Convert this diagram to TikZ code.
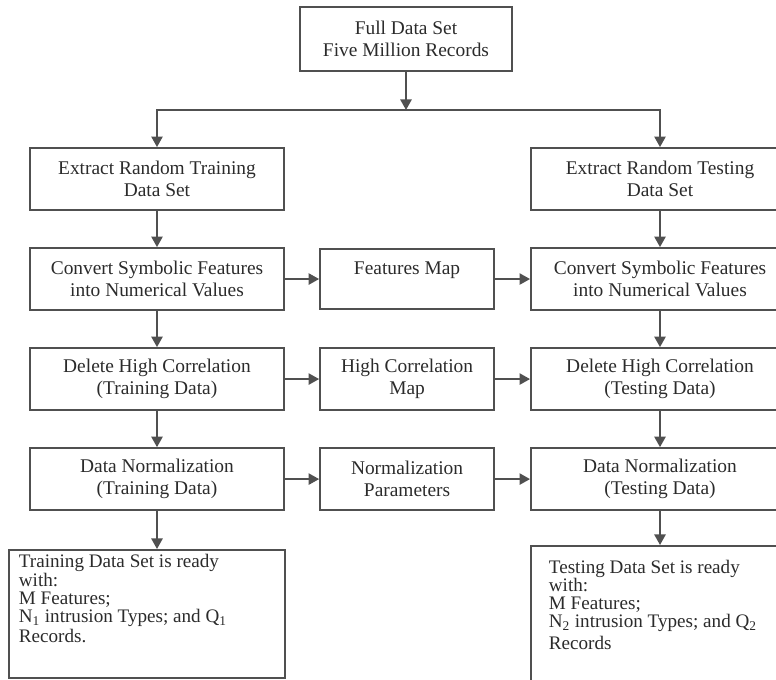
\documentclass[tikz,border=0pt]{standalone}
\usepackage{fontspec}
\setmainfont{Liberation Serif}
\usetikzlibrary{arrows.meta,positioning}
\definecolor{boxline}{HTML}{505050}
\definecolor{boxtext}{HTML}{2B2B2B}
\newcommand{\readyfont}{\fontsize{13.6}{12.9}\selectfont\lineskiplimit=-6pt}

\begin{document}
\begin{tikzpicture}[x=0.025cm,y=-0.025cm,>={Triangle[length=7.5pt,width=8pt]},
  on grid,node distance=2.5cm and 6.25cm,line width=1.3pt,color=boxline,
  stage/.style={draw=boxline,rectangle,align=center,text=boxtext,
    minimum width=6.35cm,minimum height=1.55cm,font=\fontsize{13.8}{15.6}\selectfont},
  mapbox/.style={stage,minimum width=4.35cm,minimum height=1.5cm},
  readybox/.style={draw=boxline,rectangle,anchor=north west,text=boxtext,inner xsep=0.25cm},
  flow/.style={->,draw=boxline}]
\useasboundingbox (0,0) rectangle (776,679);

% full set and split
  \node[stage,minimum width=5.3cm,minimum height=1.6cm] (full) at (406,39) {Full Data Set\\Five Million Records};
  \coordinate (split) at (406,110);
  \node[stage] (trainset) at (157,179) {Extract Random Training\\Data Set};
  \node[stage,minimum width=6.45cm] (testset) at (660,179) {Extract Random Testing\\Data Set};

% symbolic features
  \node[stage] (trainconv) [below=of trainset] {Convert Symbolic Features\\into Numerical Values};
  \node[mapbox] (featmap) [right=of trainconv] {Features Map\\\mbox{}};
  \node[stage,minimum width=6.45cm] (testconv) [below=of testset] {Convert Symbolic Features\\into Numerical Values};

% correlation
  \node[stage] (traincorr) [below=of trainconv] {Delete High Correlation\\(Training Data)};
  \node[mapbox,minimum height=1.55cm] (corrmap) [right=of traincorr] {High Correlation\\Map};
  \node[stage,minimum width=6.45cm] (testcorr) [below=of testconv] {Delete High Correlation\\(Testing Data)};

% normalization
  \node[stage] (trainnorm) [below=of traincorr] {Data Normalization\\(Training Data)};
  \node[mapbox,minimum height=1.55cm] (normpar) [right=of trainnorm] {Normalization\\Parameters};
  \node[stage,minimum width=6.45cm] (testnorm) [below=of testcorr] {Data Normalization\\(Testing Data)};

% ready sets
  \node[readybox,inner ysep=0.12cm] (trainready) at (8,549) {\parbox[c][2.96cm][t]{6.4cm}{\readyfont
    Training Data Set is ready\\with:\\M Features;\\N\textsubscript{1} intrusion Types; and Q\textsubscript{1}\\[1.5pt]Records.}};
  \node[readybox,inner xsep=0.45cm,inner ysep=0.35cm] (testready) at (530,545) {\parbox[c][3.3cm][t]{5.85cm}{\readyfont
    Testing Data Set is ready\\with:\\M Features;\\N\textsubscript{2} intrusion Types; and Q\textsubscript{2}\\[3pt]Records}};

% connectors
  \draw[flow] (full) -- (split);
  \draw[flow] (split) -| (trainset);
  \draw[flow] (split) -| (testset);

  \draw[flow] (trainset) -- (trainconv);
  \draw[flow] (trainconv) -- (traincorr);
  \draw[flow] (traincorr) -- (trainnorm);
  \draw[flow] (trainnorm) -- (trainnorm.south |- trainready.north);

  \draw[flow] (testset) -- (testconv);
  \draw[flow] (testconv) -- (testcorr);
  \draw[flow] (testcorr) -- (testnorm);
  \draw[flow] (testnorm) -- (testnorm.south |- testready.north);

  \draw[flow] (trainconv) -- (featmap);
  \draw[flow] (featmap) -- (testconv);
  \draw[flow] (traincorr) -- (corrmap);
  \draw[flow] (corrmap) -- (testcorr);
  \draw[flow] (trainnorm) -- (normpar);
  \draw[flow] (normpar) -- (testnorm);

\end{tikzpicture}
\end{document}
